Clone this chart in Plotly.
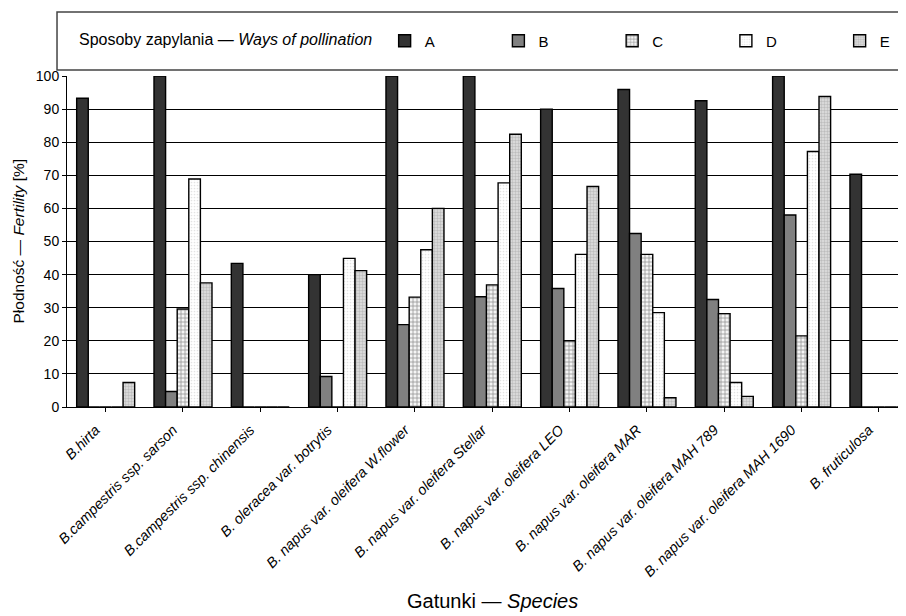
import plotly.graph_objects as go

species = [
    "B.hirta",
    "B.campestris ssp. sarson",
    "B.campestris ssp. chinensis",
    "B. oleracea var. botrytis",
    "B. napus var. oleifera W.flower",
    "B. napus var. oleifera Stellar",
    "B. napus var. oleifera LEO",
    "B. napus var. oleifera MAR",
    "B. napus var. oleifera MAH 789",
    "B. napus var. oleifera MAH 1690",
    "B. fruticulosa",
]
series_names = ["A", "B", "C", "D", "E"]
A = [93.3, 100, 43.4, 40.0, 100, 100, 90.0, 95.9, 92.5, 100, 70.3]
B = [0, 4.7, 0, 9.2, 24.9, 33.3, 35.8, 52.4, 32.5, 58.0, 0]
C = [0, 29.6, 0, 0, 33.2, 36.9, 20.0, 46.1, 28.2, 21.5, 0]
D = [0, 68.9, 0, 44.9, 47.5, 67.7, 46.1, 28.5, 7.4, 77.2, 0]
E = [7.4, 37.5, 0, 41.2, 60.0, 82.4, 66.6, 2.8, 3.2, 93.8, 0]
y_ticks = list(range(0, 101, 10))

values = [A, B, C, D, E]
styles = [
    dict(color="#333333"),
    dict(color="#808080"),
    dict(color="#ffffff", pattern=dict(shape="+", fgcolor="#333333", bgcolor="#f4f4f4", size=4, solidity=0.35)),
    dict(color="#ffffff", pattern=dict(shape=".", fgcolor="#c8c8c8", bgcolor="#ffffff", size=3, solidity=0.25)),
    dict(color="#c4c4c4", pattern=dict(shape=".", fgcolor="#999999", bgcolor="#e0e0e0", size=3, solidity=0.5)),
]

FONT = "Liberation Sans, Arial, sans-serif"
fig = go.Figure()
x_idx = list(range(len(species)))
for name, vals, st in zip(series_names, values, styles):
    fig.add_trace(go.Bar(
        x=x_idx, y=vals, name=name,
        marker=dict(line=dict(color="#000000", width=1.4), **st),
    ))

fig.update_layout(
    width=898, height=608,
    margin=dict(l=59, r=0, t=68, b=209, autoexpand=False),
    paper_bgcolor="white", plot_bgcolor="white",
    barmode="group", bargap=0.25, bargroupgap=0,
    font=dict(family=FONT, size=14, color="#000000"),
    showlegend=True,
    legend=dict(
        orientation="h", x=0.0119, xanchor="left", y=1.1057, yanchor="middle",
        entrywidth=68.75, entrywidthmode="pixels",
        title=dict(text="Sposoby zapylania — <i>Ways of pollination</i>\u00a0",
                   side="left", font=dict(family=FONT, size=16, color="#000000")),
        font=dict(family=FONT, size=15, color="#000000"),
        bgcolor="rgba(0,0,0,0)", itemclick=False,
    ),
    xaxis=dict(
        tickmode="array", tickvals=x_idx, ticktext=species,
        range=[-0.5, 10.35], tickangle=-45,
        tickfont=dict(family=FONT, size=14.4, color="#000000", style="italic"),
        ticks="outside", ticklen=4, tickcolor="#000000", tickson="boundaries",
        ticklabelshift=-10, ticklabelstandoff=4,
        showline=True, linecolor="#000000", linewidth=1,
        showgrid=False, zeroline=False,
    ),
    yaxis=dict(
        range=[0, 100], tickvals=y_ticks,
        tickfont=dict(family=FONT, size=14, color="#000000"),
        ticks="outside", ticklen=4, tickcolor="#000000",
        showline=True, linecolor="#000000", linewidth=1,
        showgrid=True, gridcolor="#000000", gridwidth=1, zeroline=False,
    ),
    shapes=[dict(type="rect", xref="paper", yref="paper",
                 x0=-0.0119, x1=1.05, y0=1.018, y1=1.193,
                 line=dict(color="#444444", width=1.5), fillcolor="rgba(0,0,0,0)")],
    annotations=[
        dict(text="Gatunki — <i>Species</i>", xref="paper", yref="paper",
             x=0.5066, y=-0.586, xanchor="center", yanchor="middle", showarrow=False,
             font=dict(family=FONT, size=20, color="#000000")),
        dict(text="Płodność — <i>Fertility</i> [%]", xref="paper", yref="paper",
             x=-0.0584, y=0.5, xanchor="center", yanchor="middle", showarrow=False,
             textangle=-90, font=dict(family=FONT, size=15.5, color="#000000")),
    ],
)

fig.write_html("out.html")
